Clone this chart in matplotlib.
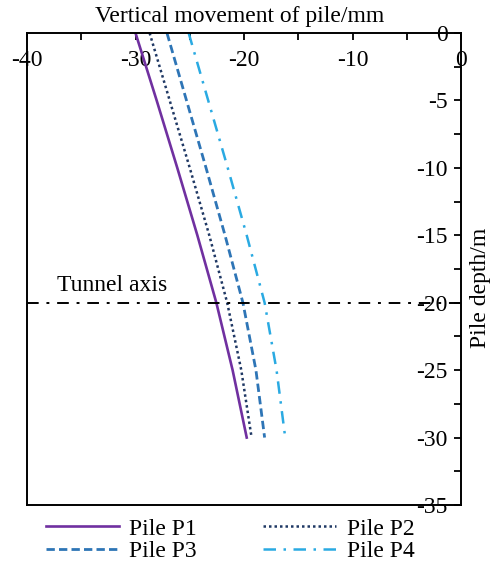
import matplotlib
matplotlib.use("Agg")
import matplotlib.pyplot as plt

plt.rcParams["font.family"] = ["Liberation Serif", "DejaVu Serif"]

# pile depth (m) and vertical movement (mm) of each pile
depth = [0, -5, -10, -15, -20, -25, -30]
p1 = [-30.0, -28.05, -26.15, -24.3, -22.55, -21.05, -19.75]
p2 = [-28.7, -26.85, -25.0, -23.2, -21.55, -20.25, -19.3]
p3 = [-27.1, -25.3, -23.5, -21.75, -20.1, -18.9, -18.1]
p4 = [-25.1, -23.3, -21.5, -19.75, -18.1, -17.0, -16.2]
labels = ["Pile P1", "Pile P2", "Pile P3", "Pile P4"]
tunnel_depth = -20

xticks = [-40, -30, -20, -10, 0]
yticks = [0, -5, -10, -15, -20, -25, -30, -35]

fs = 17
fig = plt.figure(figsize=(4.94, 5.67), dpi=100)
ax = fig.add_axes([27 / 494, 1 - 505 / 567, 434 / 494, 472 / 567])

h1, = ax.plot(p1, depth, color="#7030A0", lw=1.9, ls="-")
h2, = ax.plot(p2, depth, color="#1F3864", lw=1.8, ls=(0, (1, 1.2)))
h3, = ax.plot(p3, depth, color="#2E75B6", lw=2.0, ls=(0, (3, 1.5)))
h4, = ax.plot(p4, depth, color="#2AAAE2", lw=1.8, ls=(0, (5, 3, 1, 3)))

ax.axhline(tunnel_depth, color="black", lw=1.4, ls=(0, (6, 4, 1.5, 4)))
ax.text(-37.2, -18.7, "Tunnel axis", fontsize=fs, ha="left", va="center")

ax.set_xlim(-40, 0)
ax.set_ylim(-35, 0)

ax.xaxis.tick_top()
ax.set_xticks(xticks)
ax.set_xticks([-35, -25, -15, -5], minor=True)
ax.yaxis.tick_right()
ax.set_yticks(yticks)
ax.set_yticks([-2.5, -7.5, -12.5, -17.5, -22.5, -27.5, -32.5], minor=True)
ax.set_xticklabels([str(v) for v in xticks])
ax.set_yticklabels([str(v) for v in yticks])

ax.tick_params(axis="x", which="both", direction="in", top=True, bottom=False,
               labeltop=True, labelbottom=False, labelsize=fs, pad=-19.5)
ax.tick_params(axis="y", which="both", direction="in", right=True, left=False,
               labelright=True, labelleft=False, labelsize=fs, pad=-9.5)
ax.tick_params(which="both", length=5, width=1.3)
for lbl in ax.get_xticklabels():
    lbl.set_va("center")
for lbl in ax.get_yticklabels():
    lbl.set_ha("right")

for sp in ax.spines.values():
    sp.set_linewidth(1.4)

ax.xaxis.set_label_position("top")
ax.set_xlabel("Vertical movement of pile/mm", fontsize=fs)
ax.xaxis.set_label_coords(0.49, 1.036)
ax.xaxis.label.set_va("center")
ax.yaxis.set_label_position("right")
ax.set_ylabel("Pile depth/m", fontsize=fs)
ax.yaxis.set_label_coords(1.045, 0.46)
ax.yaxis.label.set_va("center")

# row-wise legend order: P1 P2 / P3 P4
ax.legend([h1, h3, h2, h4], [labels[0], labels[2], labels[1], labels[3]],
          loc="center", bbox_to_anchor=(0.466, 0.047), bbox_transform=fig.transFigure,
          ncol=2, frameon=False, fontsize=fs, handlelength=3.1, handletextpad=0.45,
          columnspacing=2.8, labelspacing=0.05, borderpad=0)

fig.savefig("out.png", dpi=100)
